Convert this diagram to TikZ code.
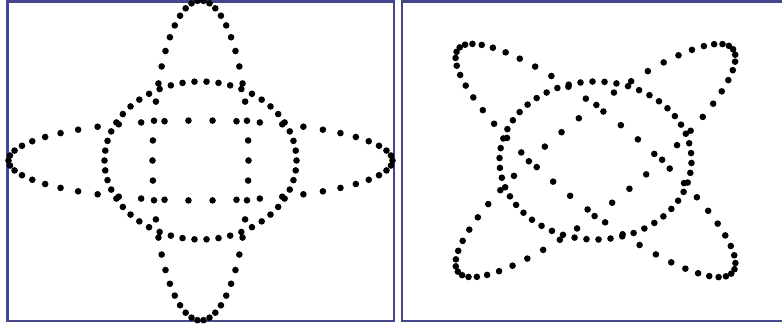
\documentclass[tikz,border=0pt]{standalone}
\definecolor{framec}{RGB}{70,70,140}
\begin{document}
\begin{tikzpicture}[x=1pt,y=-1pt,
  panel/.style={draw=framec,line width=2.2pt},
  dotc/.style={fill=black}]
\useasboundingbox (0,0) rectangle (782,327);
\fill[white] (0,0) rectangle (782,327);
\draw[panel] (7.5,1.5) rectangle (394,321);
\draw[panel] (402,1.5) rectangle (792,321);
% left panel: circle, horizontal and vertical ellipses
\begin{scope}[shift={(200.5,160.5)}]
\foreach \k in {0,...,49}{
  \pgfmathsetmacro\t{\k*7.2}
  \fill[dotc] ({1.2*80*cos(\t)},{79*sin(\t)}) circle[radius=3.3pt];
  \fill[dotc] ({1.2*160*cos(\t)},{40*sin(\t)}) circle[radius=3.3pt];
  \fill[dotc] ({1.2*40*cos(\t)},{160*sin(\t)}) circle[radius=3.3pt];
}
\end{scope}
% right panel: the same three curves turned by 45 degrees
\begin{scope}[shift={(595.5,160.5)}]
\foreach \k in {0,...,49}{
  \pgfmathsetmacro\t{\k*7.2}
  % circle
  \fill[dotc] ({1.2*80*cos(\t+45)},{79*sin(\t+45)}) circle[radius=3.3pt];
  % horizontal ellipse turned
  \pgfmathsetmacro\xa{160*cos(\t)}
  \pgfmathsetmacro\ya{40*sin(\t)}
  \fill[dotc] ({1.2*0.7071*(\xa-\ya)},{0.7071*(\xa+\ya)}) circle[radius=3.3pt];
  % vertical ellipse turned
  \pgfmathsetmacro\xb{40*cos(\t)}
  \pgfmathsetmacro\yb{160*sin(\t)}
  \fill[dotc] ({1.2*0.7071*(\xb-\yb)},{0.7071*(\xb+\yb)}) circle[radius=3.3pt];
}
\end{scope}
\end{tikzpicture}
\end{document}
